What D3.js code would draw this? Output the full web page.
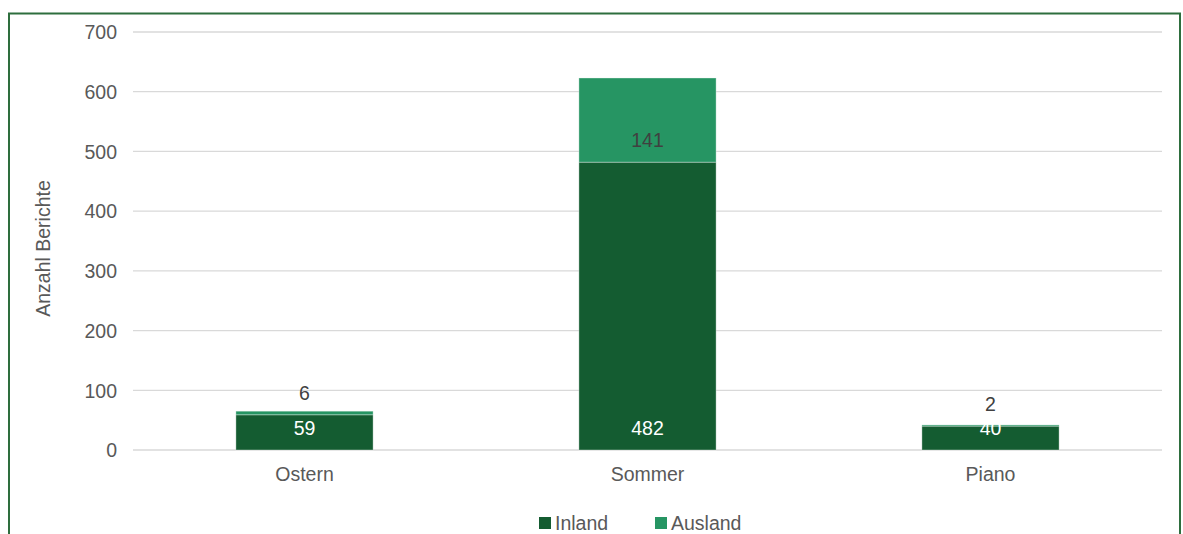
<!DOCTYPE html>
<html><head><meta charset="utf-8">
<script src="https://cdn.jsdelivr.net/npm/d3@7"></script>
<style>html,body{margin:0;padding:0;background:#fff;}svg{display:block;}</style>
</head><body>
<svg id="c" width="1183" height="534"></svg>
<script>
const categories = ["Ostern", "Sommer", "Piano"];
const inland = [59, 482, 40];
const ausland = [6, 141, 2];
const seriesNames = ["Inland", "Ausland"];
const yTicks = [0, 100, 200, 300, 400, 500, 600, 700];
const yTitle = "Anzahl Berichte";
const colors = {Inland: "#145c31", Ausland: "#269563"};
const font = "'Liberation Sans', Arial, sans-serif";
const textColor = "#595959";

(function () {
const fs = 19.5;
const svg = d3.select("#c");
svg.append("rect").attr("x", 9).attr("y", 13.5).attr("width", 1171).attr("height", 540)
  .attr("fill", "#fff").attr("stroke", "#2e6e3e").attr("stroke-width", 2);

const pLeft = 133, pRight = 1162, pTop = 32, pBottom = 450;
const x = d3.scaleBand().domain(categories).range([pLeft, pRight]).padding(0);
const y = d3.scaleLinear().domain([0, 700]).range([pBottom, pTop]);

const g = svg.append("g");
g.selectAll("line.grid").data(yTicks).join("line")
  .attr("x1", pLeft).attr("x2", pRight)
  .attr("y1", d => y(d)).attr("y2", d => y(d))
  .attr("stroke", "#d9d9d9").attr("stroke-width", 1.3);

const yAxis = d3.axisLeft(y).tickValues(yTicks).tickSize(0).tickPadding(0);
const ya = svg.append("g").attr("transform", `translate(${pLeft - 16},0)`).call(yAxis);
ya.select(".domain").remove();
ya.selectAll("text").attr("font-family", font).attr("font-size", fs).attr("fill", textColor).attr("dy", "0.35em");

const xAxis = d3.axisBottom(x).tickSize(0).tickPadding(0);
const xa = svg.append("g").attr("transform", `translate(0,${pBottom + 16})`).call(xAxis);
xa.select(".domain").remove();
xa.selectAll("text").attr("font-family", font).attr("font-size", fs).attr("fill", textColor).attr("dy", "0.78em");

svg.append("text").attr("transform", `translate(50,${(179+318)/2}) rotate(-90)`)
  .attr("text-anchor", "middle").attr("font-family", font).attr("font-size", 19.5)
  .attr("fill", textColor).text(yTitle);

const rows = categories.map((c, i) => ({cat: c, Inland: inland[i], Ausland: ausland[i]}));
const stack = d3.stack().keys(seriesNames)(rows);
const barW = x.bandwidth() * 0.4;

stack.forEach(s => {
  const key = s.key;
  svg.append("g").selectAll("rect").data(s).join("rect")
    .attr("x", d => x(d.data.cat) + x.bandwidth() / 2 - barW / 2)
    .attr("width", barW)
    .attr("y", d => y(d[1]))
    .attr("height", d => y(d[0]) - y(d[1]))
    .attr("fill", colors[key])
    .attr("stroke", "rgba(255,255,255,0.35)").attr("stroke-width", 1);
});
stack.forEach(s => {
  const key = s.key;
  svg.append("g").selectAll("text").data(s).join("text")
    .attr("x", d => x(d.data.cat) + x.bandwidth() / 2)
    .attr("y", d => y(d[0]) - 22)
    .attr("dy", "0.35em")
    .attr("text-anchor", "middle").attr("font-family", font).attr("font-size", fs)
    .attr("fill", key === "Inland" ? "#ffffff" : "#404040")
    .text(d => d.data[key]);
});

const legend = svg.append("g");
const legX = [539, 655];
seriesNames.forEach((n, i) => {
  legend.append("rect").attr("x", legX[i]).attr("y", 517).attr("width", 12).attr("height", 12).attr("fill", colors[n]);
  legend.append("text").attr("x", legX[i] + 16).attr("y", 523).attr("dy", "0.35em")
    .attr("font-family", font).attr("font-size", fs).attr("fill", textColor).text(n);
});
})();
</script>
</body></html>
